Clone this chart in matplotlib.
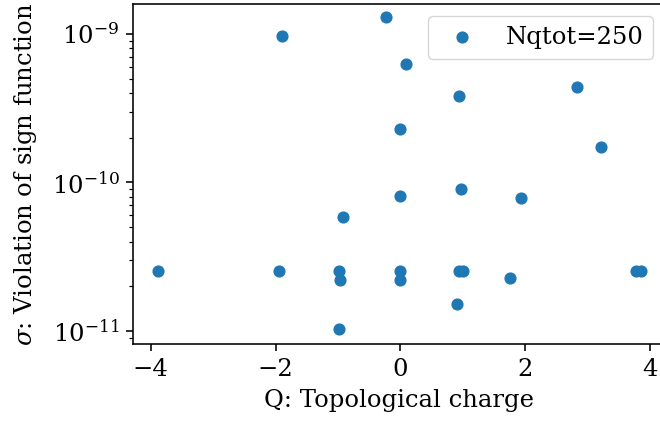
import matplotlib
matplotlib.use("Agg")
import matplotlib.pyplot as plt
import numpy as np

plt.rcParams['font.family'] = 'serif'
plt.rcParams['font.serif'] = ['DejaVu Serif']
plt.rcParams['mathtext.fontset'] = 'dejavuserif'
plt.rcParams['font.size'] = 17.5
plt.rcParams['axes.linewidth'] = 1.15
plt.rcParams['axes.labelpad'] = 5.8
for a in ('xtick', 'ytick'):
    plt.rcParams[a + '.major.size'] = 5
    plt.rcParams[a + '.major.pad'] = 5
    plt.rcParams[a + '.major.width'] = 1.15
    plt.rcParams[a + '.minor.size'] = 2.9
    plt.rcParams[a + '.minor.width'] = 0.86

# topological charge vs. violation of sign function, Nqtot=250
charge = [-0.234, -1.891, 0.096, 0.942, 2.827, 0.0, 3.218, 0.969, 0.0, 1.928,
          -0.917, -3.885, -1.946, -0.987, -0.965, 0.0, 0.0, 0.947, 1.0, 1.76,
          3.78, 3.857, 0.91, -0.987]
sigma = [1.31e-9, 9.7e-10, 6.25e-10, 3.82e-10, 4.37e-10, 2.29e-10, 1.74e-10,
         9.08e-11, 8.11e-11, 7.9e-11, 5.86e-11, 2.54e-11, 2.54e-11, 2.54e-11,
         2.2e-11, 2.54e-11, 2.2e-11, 2.54e-11, 2.54e-11, 2.27e-11, 2.54e-11,
         2.54e-11, 1.51e-11, 1.03e-11]

fig = plt.figure(figsize=(6.6, 4.21), dpi=100)
ax = fig.add_axes([0.2021, 0.1829, 0.806, 0.8076])
ax.scatter(charge, sigma, s=60, color='#1f77b4', label="Nqtot=250")
ax.set_yscale('log')
ax.set_xlim(-4.28, 4.25)
ax.set_ylim(8.17e-12, 1.592e-9)
ax.set_xticks([-4, -2, 0, 2, 4])
ax.set_xlabel("Q: Topological charge")
ax.set_ylabel(r"$\sigma$: Violation of sign function", labelpad=9)
ax.legend(fontsize=17.5)
fig.savefig("out.png", dpi=100)
plt.close('all')
